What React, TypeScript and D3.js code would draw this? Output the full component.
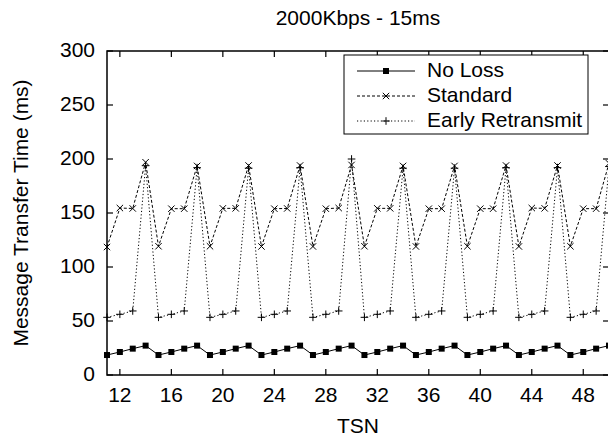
import React from "react";
import * as d3 from "d3";

const TITLE = "2000Kbps - 15ms";
const X_LABEL = "TSN";
const Y_LABEL = "Message Transfer Time (ms)";

const tsn = [11, 12, 13, 14, 15, 16, 17, 18, 19, 20, 21, 22, 23, 24, 25, 26, 27, 28, 29, 30,
  31, 32, 33, 34, 35, 36, 37, 38, 39, 40, 41, 42, 43, 44, 45, 46, 47, 48, 49, 50];

const noLoss = [18.5, 21.3, 24.4, 27.2, 18.5, 21.3, 24.4, 27.2, 18.5, 21.3, 24.4, 27.2, 18.5, 21.3, 24.4, 27.2,
  18.5, 21.3, 24.4, 27.2, 18.5, 21.3, 24.4, 27.2, 18.5, 21.3, 24.4, 27.2, 18.5, 21.3, 24.4, 27.2,
  18.5, 21.3, 24.4, 27.2, 18.5, 21.3, 24.4, 27.2];

const standard = [118.5, 154.6, 154.2, 197, 119.2, 154, 154, 193.6, 119.2, 154.3, 154.3, 194, 119, 154, 154.2, 194,
  119, 154, 154.6, 194.5, 119.2, 154.3, 154.3, 193.6, 119, 154, 154, 193.6, 119.2, 154, 154, 194,
  119, 154.6, 154.3, 194, 119.2, 154, 154, 196];

const earlyRetransmit = [53.4, 56.2, 59.3, 193.8, 53.4, 56.2, 59.3, 192, 53.4, 56.2, 59.3, 191.5, 53.4, 56.2, 59.3, 192,
  53.4, 56.2, 59.3, 200, 53.4, 56.2, 59.3, 191.5, 53.4, 56.2, 59.3, 191.5, 53.4, 56.2, 59.3, 192,
  53.4, 56.2, 59.3, 192, 53.4, 56.2, 59.3, 193];

const xTicks = [12, 16, 20, 24, 28, 32, 36, 40, 44, 48];
const yTicks = [0, 50, 100, 150, 200, 250, 300];
const seriesNames = ["No Loss", "Standard", "Early Retransmit"];

const W = 608;
const H = 437;
const L = 107, R = 609, T = 51, B = 375;
const FONT = "'Liberation Sans', Arial, Helvetica, sans-serif";
const FS = 21;

type Marker = "square" | "cross" | "plus";

function MarkerShape({ x, y, kind }: { x: number; y: number; kind: Marker }) {
  if (kind === "square") {
    return <rect x={x - 3} y={y - 3} width={6} height={6} fill="#000" />;
  }
  const s = 3.2;
  if (kind === "cross") {
    return (
      <path d={`M${x - s},${y - s}L${x + s},${y + s}M${x - s},${y + s}L${x + s},${y - s}`} stroke="#000" strokeWidth={1} fill="none" />
    );
  }
  const p = 3.8;
  return (
    <path d={`M${x - p},${y}L${x + p},${y}M${x},${y - p}L${x},${y + p}`} stroke="#000" strokeWidth={1} fill="none" />
  );
}

export default function App() {
  const x = d3.scaleLinear().domain([11, 50]).range([L, R]);
  const y = d3.scaleLinear().domain([0, 300]).range([B, T]);

  const series: { name: string; values: number[]; dash: string | undefined; marker: Marker }[] = [
    { name: seriesNames[0], values: noLoss, dash: undefined, marker: "square" },
    { name: seriesNames[1], values: standard, dash: "3,2", marker: "cross" },
    { name: seriesNames[2], values: earlyRetransmit, dash: "1.2,2.2", marker: "plus" },
  ];

  const line = d3
    .line<number>()
    .x((_, i) => x(tsn[i]))
    .y((v) => y(v));

  const tickLen = 6;
  const legendLeft = 344, legendRight = 588, legendTop = 55, legendBottom = 134;
  const legendRows = [71, 96, 121];

  return (
    <svg width={W} height={H} style={{ position: "absolute", left: 0, top: 0, background: "#fff" }} fontFamily={FONT}>
      <rect x={0} y={0} width={W} height={H} fill="#fff" />
      <text x={(L + R) / 2} y={19} textAnchor="middle" dominantBaseline="middle" fontSize={FS}>{TITLE}</text>

      {/* series */}
      <g>
        {series.map((s) => (
          <g key={s.name}>
            <path d={line(s.values) || ""} fill="none" stroke="#000" strokeWidth={1} strokeDasharray={s.dash} />
            {s.values.map((v, i) => (
              <MarkerShape key={i} x={x(tsn[i])} y={y(v)} kind={s.marker} />
            ))}
          </g>
        ))}
      </g>

      {/* ticks */}
      {yTicks.map((t) => (
        <g key={"y" + t}>
          <line x1={L} x2={L + tickLen} y1={y(t)} y2={y(t)} stroke="#000" strokeWidth={1.2} />
          <line x1={R} x2={R - tickLen} y1={y(t)} y2={y(t)} stroke="#000" strokeWidth={1.2} />
          <text x={95} y={y(t)} textAnchor="end" dominantBaseline="middle" fontSize={FS}>{t}</text>
        </g>
      ))}
      {xTicks.map((t) => (
        <g key={"x" + t}>
          <line x1={x(t)} x2={x(t)} y1={B} y2={B - tickLen} stroke="#000" strokeWidth={1.2} />
          <line x1={x(t)} x2={x(t)} y1={T} y2={T + tickLen} stroke="#000" strokeWidth={1.2} />
          <text x={x(t)} y={396} textAnchor="middle" dominantBaseline="middle" fontSize={FS}>{t}</text>
        </g>
      ))}

      {/* frame */}
      <rect x={L} y={T} width={R - L} height={B - T} fill="none" stroke="#000" strokeWidth={1.5} />

      {/* legend */}
      <rect x={legendLeft} y={legendTop} width={legendRight - legendLeft} height={legendBottom - legendTop} fill="#fff" stroke="#000" strokeWidth={1} />
      {series.map((s, i) => (
        <g key={"lg" + s.name}>
          <line x1={357} x2={415} y1={legendRows[i]} y2={legendRows[i]} stroke="#000" strokeWidth={1} strokeDasharray={s.dash} />
          <MarkerShape x={386} y={legendRows[i]} kind={s.marker} />
          <text x={427} y={legendRows[i]} dominantBaseline="middle" fontSize={FS}>{s.name}</text>
        </g>
      ))}

      <text x={358} y={427} textAnchor="middle" dominantBaseline="middle" fontSize={FS}>{X_LABEL}</text>
      <text transform={`translate(22,${(T + B) / 2}) rotate(-90)`} textAnchor="middle" dominantBaseline="middle" fontSize={FS}>{Y_LABEL}</text>
    </svg>
  );
}
